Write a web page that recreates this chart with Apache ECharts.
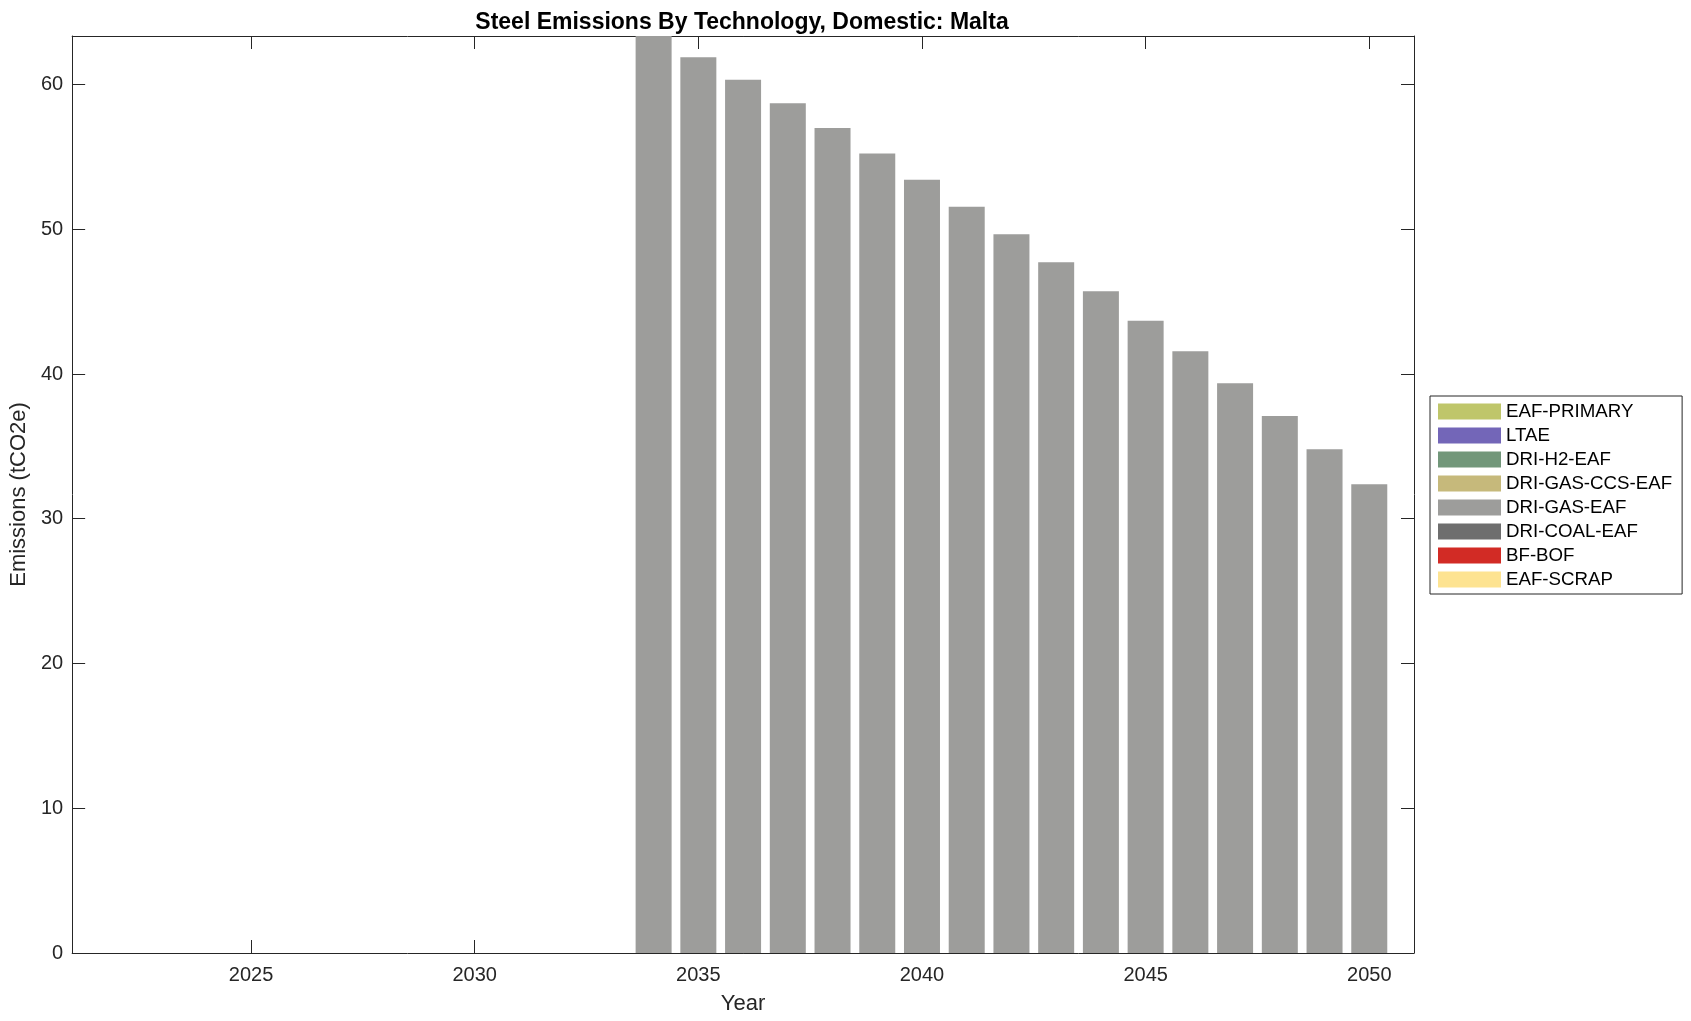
<!DOCTYPE html>
<html>
<head>
<meta charset="utf-8">
<script src="https://cdn.jsdelivr.net/npm/echarts@6/dist/echarts.min.js"></script>
<style>
html,body{margin:0;padding:0;background:#fff;}
#chart{width:1691px;height:1021px;}
</style>
</head>
<body>
<div id="chart"></div>
<script>
// ---- data ----
const years = [2022,2023,2024,2025,2026,2027,2028,2029,2030,2031,2032,2033,2034,2035,2036,2037,2038,2039,2040,2041,2042,2043,2044,2045,2046,2047,2048,2049,2050];
const eafScrap    = [0,0,0,0,0,0,0,0,0,0,0,0,0,0,0,0,0,0,0,0,0,0,0,0,0,0,0,0,0];
const bfBof       = [0,0,0,0,0,0,0,0,0,0,0,0,0,0,0,0,0,0,0,0,0,0,0,0,0,0,0,0,0];
const driCoalEaf  = [0,0,0,0,0,0,0,0,0,0,0,0,0,0,0,0,0,0,0,0,0,0,0,0,0,0,0,0,0];
const driGasEaf   = [0,0,0,0,0,0,0,0,0,0,0,0,63.35,61.88,60.33,58.71,56.99,55.24,53.42,51.55,49.65,47.72,45.72,43.67,41.57,39.36,37.10,34.80,32.39];
const driGasCcsEaf= [0,0,0,0,0,0,0,0,0,0,0,0,0,0,0,0,0,0,0,0,0,0,0,0,0,0,0,0,0];
const driH2Eaf    = [0,0,0,0,0,0,0,0,0,0,0,0,0,0,0,0,0,0,0,0,0,0,0,0,0,0,0,0,0];
const ltae        = [0,0,0,0,0,0,0,0,0,0,0,0,0,0,0,0,0,0,0,0,0,0,0,0,0,0,0,0,0];
const eafPrimary  = [0,0,0,0,0,0,0,0,0,0,0,0,0,0,0,0,0,0,0,0,0,0,0,0,0,0,0,0,0];
const yTicks = [0,10,20,30,40,50,60];
const xTickLabels = [2025,2030,2035,2040,2045,2050];

const seriesDefs = [
  {name:'EAF-SCRAP', data:eafScrap, color:'#fde391'},
  {name:'BF-BOF', data:bfBof, color:'#d22b25'},
  {name:'DRI-COAL-EAF', data:driCoalEaf, color:'#6e6e6e'},
  {name:'DRI-GAS-EAF', data:driGasEaf, color:'#9d9d9b'},
  {name:'DRI-GAS-CCS-EAF', data:driGasCcsEaf, color:'#c6b97b'},
  {name:'DRI-H2-EAF', data:driH2Eaf, color:'#72977a'},
  {name:'LTAE', data:ltae, color:'#7366b8'},
  {name:'EAF-PRIMARY', data:eafPrimary, color:'#bfc66a'}
];
const legendOrder = ['EAF-PRIMARY','LTAE','DRI-H2-EAF','DRI-GAS-CCS-EAF','DRI-GAS-EAF','DRI-COAL-EAF','BF-BOF','EAF-SCRAP'];

const FONT = "'Liberation Sans', Arial, Helvetica, sans-serif";
const AX = '#262626';
const yMax = Math.max(...years.map((_, i) => seriesDefs.reduce((s, d) => s + d.data[i], 0)));

const chart = echarts.init(document.getElementById('chart'), null, {renderer:'canvas'});

const xCommon = {
  type:'value', min:2021, max:2051,
  axisLine:{show:true, onZero:false, lineStyle:{color:AX, width:1}},
  axisTick:{show:true, inside:true, length:13, lineStyle:{color:AX, width:1}},
  splitLine:{show:false}
};
const yCommon = {
  type:'value', min:0, max:yMax, interval:10,
  axisLine:{show:true, onZero:false, lineStyle:{color:AX, width:1}},
  axisTick:{show:true, inside:true, length:13, lineStyle:{color:AX, width:1}},
  splitLine:{show:false}
};

chart.setOption({
  animation:false,
  backgroundColor:'#ffffff',
  title:{
    text:'Steel Emissions By Technology, Domestic: Malta',
    left:737, textAlign:'center', top:6,
    textStyle:{fontFamily:FONT, fontWeight:'bold', fontSize:23, color:'#000'}
  },
  grid:{left:71, right:277, top:36, bottom:68, containLabel:false},
  legend:{
    data:legendOrder,
    orient:'vertical',
    left:1430, top:396,
    padding:[6,10,5,8],
    itemWidth:63, itemHeight:16, itemGap:5,
    icon:'rect',
    borderColor:AX, borderWidth:1, backgroundColor:'#fff',
    textStyle:{fontFamily:FONT, fontSize:18.7, lineHeight:19, color:'#000'}
  },
  xAxis:[
    Object.assign({}, xCommon, {
      position:'bottom',
      name:'Year', nameLocation:'middle', nameGap:40,
      nameTextStyle:{fontFamily:FONT, fontSize:22, color:AX},
      axisLabel:{
        show:true, margin:12, fontFamily:FONT, fontSize:20, color:AX,
        showMinLabel:false, showMaxLabel:false,
        formatter:function(v){ return xTickLabels.indexOf(v) >= 0 ? String(v) : ''; }
      }
    }),
    Object.assign({}, xCommon, {position:'top', axisLabel:{show:false}})
  ],
  yAxis:[
    Object.assign({}, yCommon, {
      position:'left',
      name:'Emissions (tCO2e)', nameLocation:'middle', nameGap:37, nameRotate:90,
      nameTextStyle:{fontFamily:FONT, fontSize:22, color:AX},
      axisLabel:{
        show:true, margin:9, fontFamily:FONT, fontSize:20, color:AX,
        showMaxLabel:false,
        formatter:function(v){ return yTicks.indexOf(v) >= 0 ? String(v) : ''; }
      }
    }),
    Object.assign({}, yCommon, {position:'right', axisLabel:{show:false}})
  ],
  series:seriesDefs.map(d => ({
    name:d.name, type:'bar', stack:'total',
    xAxisIndex:0, yAxisIndex:0,
    barWidth:36,
    itemStyle:{color:d.color},
    data:years.map((y,i) => [y, d.data[i]])
  }))
});
</script>
</body>
</html>
